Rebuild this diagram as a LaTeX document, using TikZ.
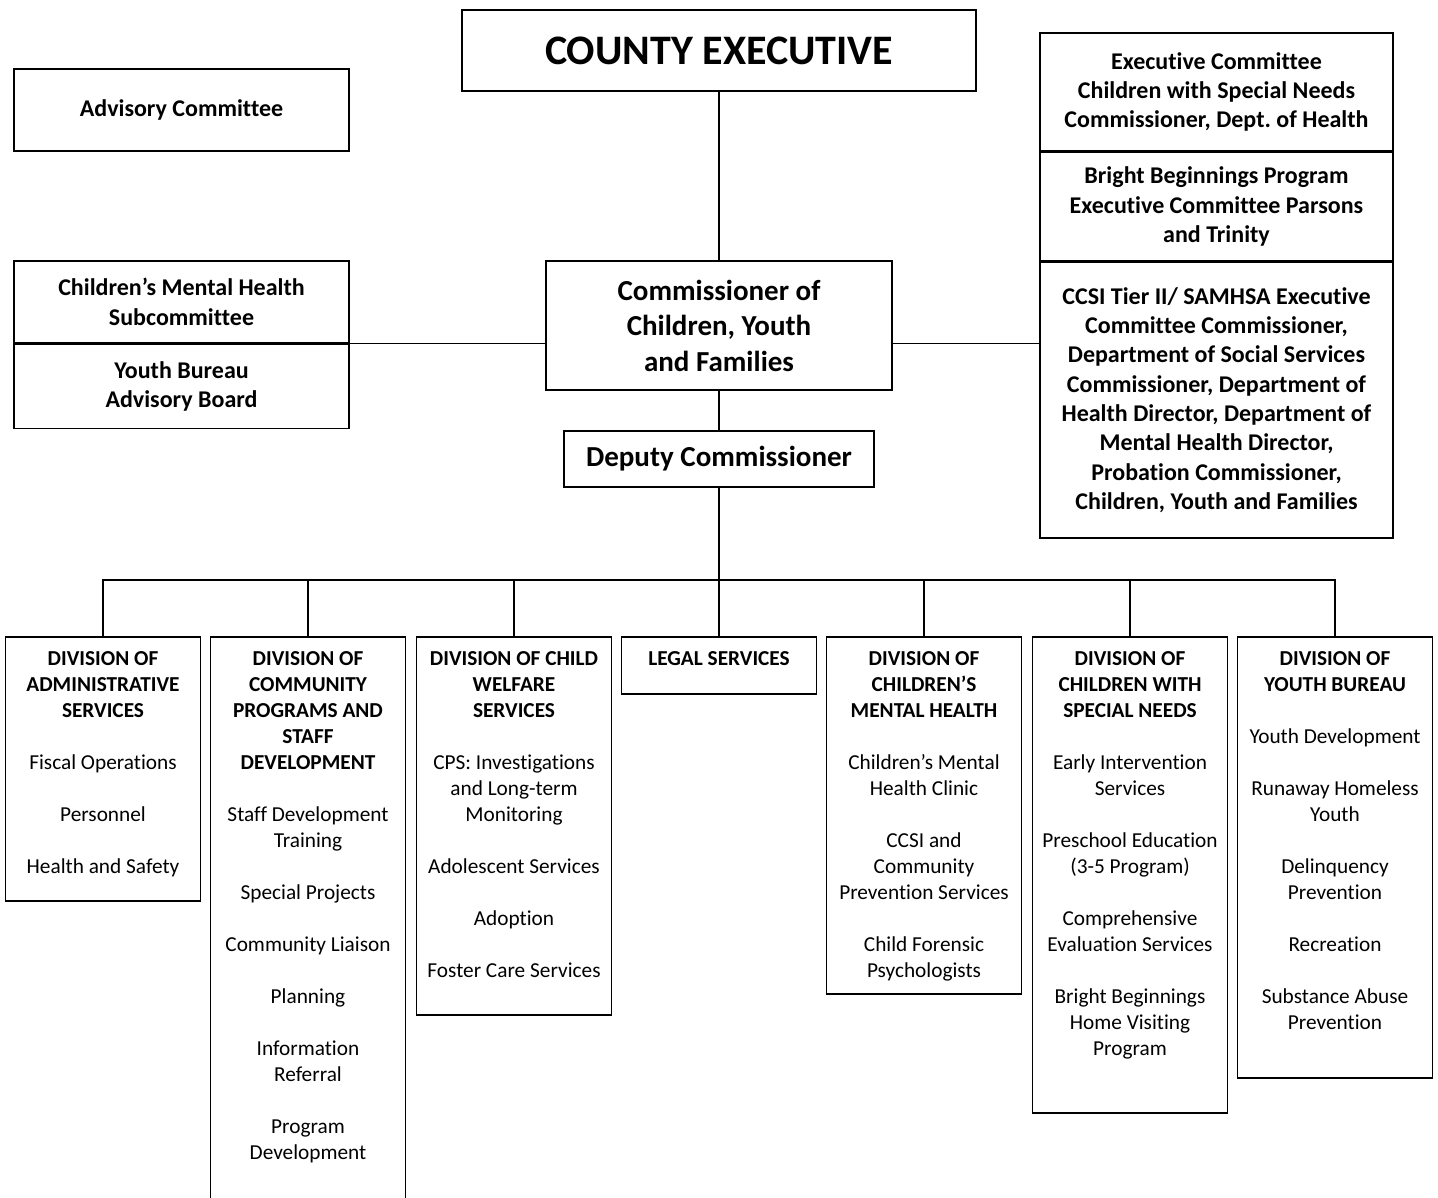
\documentclass[tikz,border=0pt]{standalone}
\usepackage{fontspec}
\setmainfont{Carlito}[Ligatures=NoCommon]
\frenchspacing
\usetikzlibrary{positioning}

% text block of a division: fixed height, lines from the top
\newcommand{\divtext}[2]{\parbox[t][#1pt][t]{190pt}{\centering\fontsize{21.3}{26}\selectfont\vspace*{15pt}#2}}
\newcommand{\gap}{\\[26pt]}

\tikzset{
  box/.style={draw, line width=1.5pt, align=center, inner sep=0pt},
  topbox/.style={box, font=\fontsize{42}{50}\selectfont\bfseries},
  sidebox/.style={box, minimum width=335, font=\fontsize{24}{29.3}\selectfont\bfseries},
  rightbox/.style={box, minimum width=353, font=\fontsize{24}{29.3}\selectfont\bfseries},
  headbox/.style={box, font=\fontsize{29}{35.5}\selectfont\bfseries},
  divbox/.style={box, anchor=north, minimum width=195},
  link/.style={line width=1.3pt}
}

\begin{document}
\begin{tikzpicture}[x=1pt, y=-1pt]
  \useasboundingbox (0,0) rectangle (1438,1197);
  \clip (0,0) rectangle (1438,1197);

  % top part
  \node[topbox, minimum width=514, minimum height=81] (ce) at (719,50.5) {COUNTY EXECUTIVE};
  \node[headbox, minimum width=346, minimum height=129] (com) at (719,325.5) {Commissioner of\\Children, Youth\\and Families};
  \node[headbox, minimum width=310, minimum height=56] (dep) at (719,459) {Deputy Commissioner};

  % left side
  \node[sidebox, minimum height=82] (adv) at (181.5,110) {Advisory Committee};
  \node[sidebox, minimum height=82] (cmh) at (181.5,302) {Children’s Mental Health\\Subcommittee};
  \node[sidebox, minimum height=84, below=0pt of cmh] (ybab) {Youth Bureau\\Advisory Board};

  % right side
  \node[rightbox, minimum height=118] (exc) at (1216.5,92) {Executive Committee\\Children with Special Needs\\Commissioner, Dept. of Health};
  \node[rightbox, minimum height=108, below=0pt of exc] (bbp) {Bright Beginnings Program\\Executive Committee Parsons\\and Trinity};
  \node[rightbox, minimum height=276, below=0pt of bbp] (ccsi) {CCSI Tier II/ SAMHSA Executive\\Committee Commissioner,\\Department of Social Services\\Commissioner, Department of\\Health Director, Department of\\Mental Health Director,\\Probation Commissioner,\\Children, Youth and Families};

  % divisions
  \node[divbox] (das) at (103,636) {\divtext{264}{{\bfseries DIVISION OF\\ADMINISTRATIVE\\SERVICES}\gap Fiscal Operations\gap Personnel\gap Health and Safety}};
  \node[divbox] (dcp) at (308,636) {\divtext{590}{{\bfseries DIVISION OF\\COMMUNITY\\PROGRAMS AND\\STAFF\\DEVELOPMENT}\gap Staff Development\\Training\gap Special Projects\gap Community Liaison\gap Planning\gap Information\\Referral\gap Program\\Development}};
  \node[divbox] (dcw) at (514,636) {\divtext{378}{{\bfseries DIVISION OF CHILD\\WELFARE\\SERVICES}\gap CPS: Investigations\\and Long-term\\Monitoring\gap Adolescent Services\gap Adoption\gap Foster Care Services}};
  \node[divbox] (leg) at (719,636) {\divtext{57}{{\bfseries LEGAL SERVICES}}};
  \node[divbox] (dmh) at (924,636) {\divtext{357}{{\bfseries DIVISION OF\\CHILDREN’S\\MENTAL HEALTH}\gap Children’s Mental\\Health Clinic\gap CCSI and\\Community\\Prevention Services\gap Child Forensic\\Psychologists}};
  \node[divbox] (dsn) at (1130,636) {\divtext{476}{{\bfseries DIVISION OF\\CHILDREN WITH\\SPECIAL NEEDS}\gap Early Intervention\\Services\gap Preschool Education\\(3-5 Program)\gap Comprehensive\\Evaluation Services\gap Bright Beginnings\\Home Visiting\\Program}};
  \node[divbox] (dyb) at (1335,636) {\divtext{441}{{\bfseries DIVISION OF\\YOUTH BUREAU}\gap Youth Development\gap Runaway Homeless\\Youth\gap Delinquency\\Prevention\gap Recreation\gap Substance Abuse\\Prevention}};

  % connectors
  \draw[link] (ce) -- (com);
  \draw[link] (com) -- (dep);
  \draw[link] (cmh.south east) -- (com.west |- cmh.south east);
  \draw[link] (com.east |- cmh.south east) -- (ccsi.west |- cmh.south east);
  \coordinate (bus) at (719,580);
  \draw[link] (dep) -- (bus);
  \foreach \d in {das,dcp,dcw,leg,dmh,dsn,dyb}
    \draw[link] (\d.north) |- (bus);
\end{tikzpicture}
\end{document}
